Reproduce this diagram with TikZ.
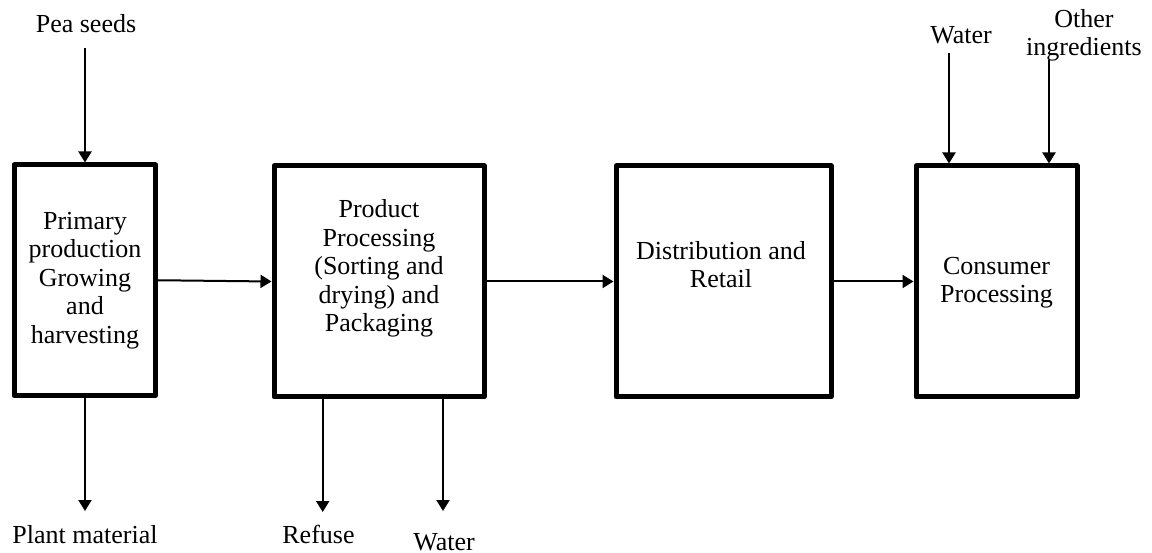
\documentclass[tikz,border=0pt]{standalone}
\usepackage{fontspec}
\setmainfont{Liberation Serif}
\usetikzlibrary{arrows.meta}

\begin{document}
\begin{tikzpicture}[x=1pt,y=-1pt,
  stage/.style={draw, line width=5pt, line join=round, inner sep=0pt},
  label/.style={anchor=base, align=center, inner sep=0pt,
    font=\fontsize{26}{28.5}\selectfont},
  arr/.style={line width=2pt, -{Triangle[length=11pt,width=13pt]}}]

  \useasboundingbox (0,0) rectangle (1152,553);

  % process stages
  \node[stage, minimum width=141.5pt, minimum height=230.5pt] (b1) at (84.75,280.25) {};
  \node[stage, minimum width=210pt,   minimum height=231pt]   (b2) at (379,281.5) {};
  \node[stage, minimum width=215pt,   minimum height=231pt]   (b3) at (723.5,281.5) {};
  \node[stage, minimum width=161pt,   minimum height=231pt]   (b4) at (996.5,281.5) {};

  % stage texts (anchored at the baseline of their last line)
  \node[label] (t1) at (85,343.3) {Primary\\production\\Growing\\and\\harvesting};
  \node[label] (t2) at (379,331.7) {Product\\Processing\\(Sorting and\\drying) and\\Packaging};
  \node[label] (t3) at (721,288) {Distribution and\\Retail};
  \node[label] (t4) at (996.5,303) {Consumer\\Processing};

  % inputs and outputs
  \node[label] (pea)   at (86,33)    {Pea seeds};
  \node[label] (wat1)  at (961,44)   {Water};
  \node[label] (oth)   at (1084,56)  {Other\\ingredients};
  \node[label] (plant) at (85,543)   {Plant material};
  \node[label] (ref)   at (318.5,543) {Refuse};
  \node[label] (wat2)  at (444,550)  {Water};

  \coordinate (pa) at (85,48);
  \coordinate (wa) at (949,53);
  \coordinate (oa) at (1049,60);
  \coordinate (pm) at (85,511);
  \coordinate (rf) at (322.7,512);
  \coordinate (wb) at (443,511);

  % flow between stages
  \draw[arr] (b1.east) -- (b2.west);
  \draw[arr] (b2.east) -- (b3.west);
  \draw[arr] (b3.east) -- (b4.west);

  % inputs
  \draw[arr] (pa) -- (pa |- b1.north);
  \draw[arr] (wa) -- (wa |- b4.north);
  \draw[arr] (oa) -- (oa |- b4.north);

  % outputs
  \draw[arr] (pm |- b1.south) -- (pm);
  \draw[arr] (rf |- b2.south) -- (rf);
  \draw[arr] (wb |- b2.south) -- (wb);
\end{tikzpicture}
\end{document}
